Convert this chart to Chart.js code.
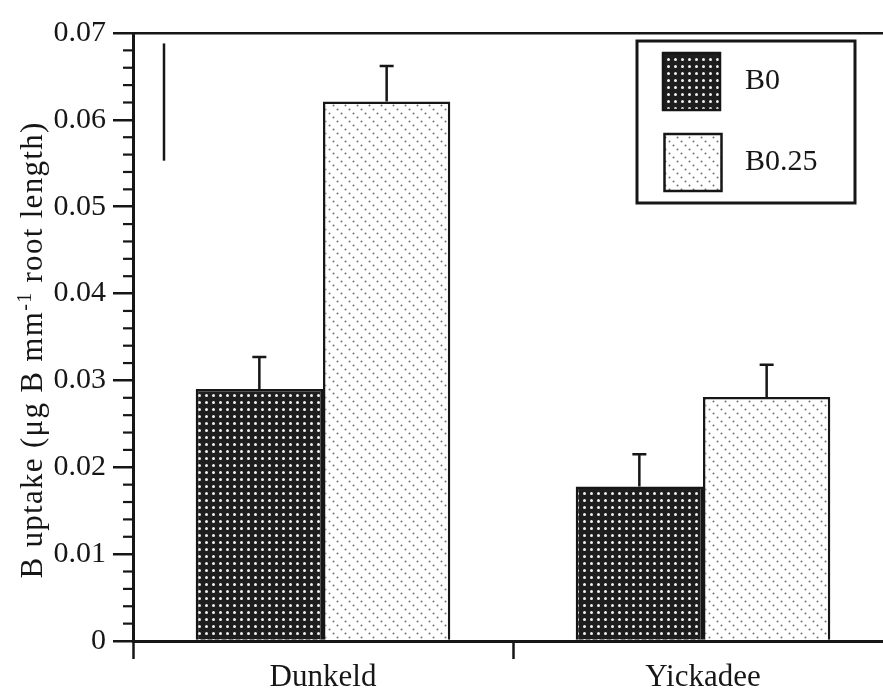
<!DOCTYPE html>
<html>
<head>
<meta charset="utf-8">
<script src="https://cdn.jsdelivr.net/npm/chart.js@4/dist/chart.umd.min.js"></script>
<style>
  html, body { margin: 0; padding: 0; background: #fff; overflow: hidden; }
  body { width: 883px; height: 688px; }
  #wrap { width: 893px; height: 688px; position: relative; }
</style>
</head>
<body>
<div id="wrap"><canvas id="c"></canvas></div>
<script>
// Boron uptake per unit root length for two cultivars at two B levels
const cultivars = ['Dunkeld', 'Yickadee'];
const seriesNames = ['B0', 'B0.25'];
const uptakeB0 = [0.0290, 0.0178];
const errB0 = [0.0037, 0.0037];
const uptakeB025 = [0.0621, 0.0281];
const errB025 = [0.0041, 0.0037];
// LSD bar (top value and length in data units)
const lsdTop = 0.0688;
const lsdSize = 0.0135;
// Axis range
const yMin = 0, yMax = 0.07, yMajorStep = 0.01, yMinorStep = 0.002;
const yTitleParts = ['B uptake (\u03bcg B mm', '-1', ' root length)'];

const FONT = 'Liberation Serif';
const INK = '#161616';

function makePattern(draw, w, h) {
  const cv = document.createElement('canvas');
  cv.width = w; cv.height = h;
  const g = cv.getContext('2d');
  draw(g);
  return g.createPattern(cv, 'repeat');
}
// dark fill with white dots
const darkDots = makePattern(g => {
  g.fillStyle = '#1e1e1e'; g.fillRect(0, 0, 7, 7);
  g.fillStyle = '#f2f2f2';
  g.beginPath(); g.arc(3.5, 3.5, 1.5, 0, Math.PI * 2); g.fill();
}, 7, 7);
// white fill with grey dots along down-right diagonals
const lightDiag = makePattern(g => {
  g.fillStyle = '#ffffff'; g.fillRect(0, 0, 12, 12);
  g.fillStyle = '#707070';
  [[1.5, 1.5], [5.5, 5.5], [9.5, 9.5]].forEach(([x, y]) => {
    g.beginPath(); g.arc(x, y, 1.0, 0, Math.PI * 2); g.fill();
  });
}, 12, 12);

const errorSets = [errB0, errB025];

const errorBars = {
  id: 'errorBars',
  afterDatasetsDraw(chart) {
    const ctx = chart.ctx, ys = chart.scales.y;
    ctx.save();
    ctx.strokeStyle = INK; ctx.lineWidth = 2.5;
    chart.data.datasets.forEach((ds, di) => {
      const meta = chart.getDatasetMeta(di);
      meta.data.forEach((bar, i) => {
        const v = ds.data[i], e = errorSets[di][i];
        const yTop = ys.getPixelForValue(v + e);
        ctx.beginPath();
        ctx.moveTo(bar.x, bar.y); ctx.lineTo(bar.x, yTop);
        ctx.moveTo(bar.x - 7, yTop); ctx.lineTo(bar.x + 7, yTop);
        ctx.stroke();
      });
    });
    ctx.restore();
  }
};

const decorations = {
  id: 'decorations',
  afterDraw(chart) {
    const ctx = chart.ctx, ys = chart.scales.y, area = chart.chartArea;
    ctx.save();
    ctx.strokeStyle = INK; ctx.fillStyle = INK;
    // minor ticks on the y axis
    ctx.lineWidth = 2.2;
    const nMinor = Math.round((yMax - yMin) / yMinorStep);
    const per = Math.round(yMajorStep / yMinorStep);
    for (let i = 0; i <= nMinor; i++) {
      if (i % per === 0) continue;
      const y = ys.getPixelForValue(yMin + i * yMinorStep);
      ctx.beginPath(); ctx.moveTo(area.left - 10, y); ctx.lineTo(area.left, y); ctx.stroke();
    }
    // LSD bar
    ctx.lineWidth = 2.5;
    const lx = area.left + 31;
    ctx.beginPath();
    ctx.moveTo(lx, ys.getPixelForValue(lsdTop));
    ctx.lineTo(lx, ys.getPixelForValue(lsdTop - lsdSize));
    ctx.stroke();

    // y axis title with superscript
    ctx.save();
    ctx.translate(42, 350);
    ctx.rotate(-Math.PI / 2);
    ctx.letterSpacing = '1.3px';
    const big = '31px "' + FONT + '"', small = '20px "' + FONT + '"';
    ctx.font = big; const w0 = ctx.measureText(yTitleParts[0]).width;
    ctx.font = small; const w1 = ctx.measureText(yTitleParts[1]).width;
    ctx.font = big; const w2 = ctx.measureText(yTitleParts[2]).width;
    let x = -(w0 + w1 + w2) / 2;
    ctx.textBaseline = 'alphabetic'; ctx.textAlign = 'left';
    ctx.font = big; ctx.fillText(yTitleParts[0], x, 0); x += w0;
    ctx.font = small; ctx.fillText(yTitleParts[1], x, -11); x += w1;
    ctx.font = big; ctx.fillText(yTitleParts[2], x, 0);
    ctx.restore();

    // legend box
    ctx.lineWidth = 3;
    ctx.strokeRect(637, 41, 218, 162);
    chart.data.datasets.forEach((ds, i) => {
      const sy = 53 + i * 81;
      const sx = 663 + i * 1.5;
      ctx.fillStyle = ds.backgroundColor;
      ctx.fillRect(sx, sy, 57, 57);
      ctx.lineWidth = 2.5; ctx.strokeStyle = INK;
      ctx.strokeRect(sx, sy, 57, 57);
      ctx.fillStyle = INK;
      ctx.font = '30px "' + FONT + '"';
      ctx.textBaseline = 'middle'; ctx.textAlign = 'left';
      ctx.fillText(ds.label, 745, sy + 28);
    });
    ctx.restore();
  }
};

new Chart(document.getElementById('c'), {
  type: 'bar',
  data: {
    labels: cultivars,
    datasets: [
      { label: seriesNames[0], data: uptakeB0, backgroundColor: darkDots, borderColor: INK, borderWidth: 2.5 },
      { label: seriesNames[1], data: uptakeB025, backgroundColor: lightDiag, borderColor: INK, borderWidth: 2.5 }
    ]
  },
  options: {
    responsive: true,
    maintainAspectRatio: false,
    animation: false,
    devicePixelRatio: 1,
    layout: { padding: { top: 33, left: 0, right: 0, bottom: 0 } },
    plugins: { legend: { display: false }, tooltip: { enabled: false } },
    datasets: { bar: { barPercentage: 1, categoryPercentage: 0.67 } },
    scales: {
      x: {
        offset: true,
        afterFit: s => { s.height = 47; },
        grid: { offset: true, drawOnChartArea: false, tickLength: 18, tickWidth: 2.5, tickColor: INK },
        border: { display: true, color: INK, width: 3 },
        ticks: { font: { family: FONT, size: 31 }, color: INK, padding: 0 }
      },
      y: {
        min: yMin, max: yMax,
        afterFit: s => { s.width = 133; },
        ticks: {
          stepSize: yMajorStep,
          font: { family: FONT, size: 30 }, color: INK, padding: 7,
          callback: v => (v === 0 ? '0' : Number(v).toFixed(2))
        },
        grid: {
          drawOnChartArea: true,
          color: ctx => (ctx.tick && Math.abs(ctx.tick.value - yMax) < 1e-9) ? INK : 'rgba(0,0,0,0)',
          lineWidth: 2.5,
          tickLength: 20, tickWidth: 2.5, tickColor: INK
        },
        border: { display: true, color: INK, width: 3 }
      }
    }
  },
  plugins: [errorBars, decorations]
});
</script>
</body>
</html>
